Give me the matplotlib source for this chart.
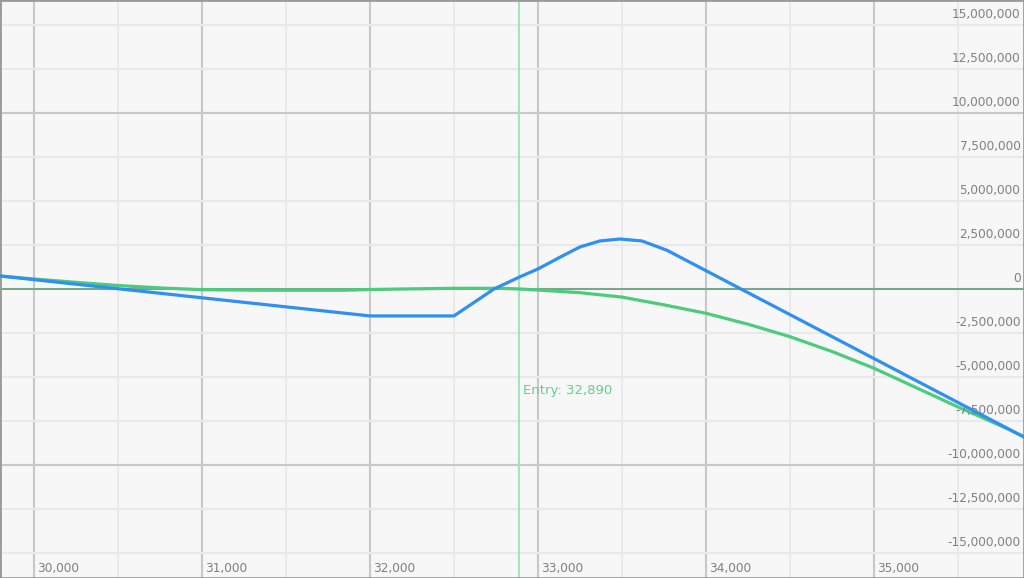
import matplotlib
matplotlib.use("Agg")
import matplotlib.pyplot as plt
from matplotlib.ticker import MultipleLocator

# price grid and P/L values
expiry_x = [29798, 32000, 32500, 32738, 32890, 33000, 33130, 33250, 33369, 33488, 33619, 33768, 35893]
expiry_y = [0.74e6, -1.53e6, -1.53e6, 0.0, 0.68e6, 1.14e6, 1.80e6, 2.39e6, 2.73e6, 2.84e6, 2.73e6, 2.20e6, -8.41e6]

today_x = [29798, 30000, 30250, 30500, 30750, 31000, 31350, 31850, 32000, 32200, 32500, 32774,
           32890, 33000, 33250, 33500, 33750, 34000, 34250, 34500, 34750, 35000, 35250, 35500,
           35750, 35893]
today_y = [0.74e6, 0.57e6, 0.38e6, 0.20e6, 0.06e6, -0.04e6, -0.07e6, -0.07e6, -0.03e6, 0.0, 0.04e6, 0.04e6,
           0.0, -0.06e6, -0.21e6, -0.46e6, -0.90e6, -1.38e6, -2.0e6, -2.71e6, -3.55e6, -4.5e6, -5.6e6, -6.7e6,
           -7.75e6, -8.39e6]

entry_price = 32890
x_ticks = [30000, 31000, 32000, 33000, 34000, 35000]
y_ticks = [v * 2.5e6 for v in range(-6, 7)]

BG = "#f7f7f7"
TICK_COLOR = "#808080"

fig = plt.figure(figsize=(10.24, 5.78), dpi=100)
fig.patch.set_facecolor(BG)
ax = fig.add_axes([0, 0, 1, 1])
ax.set_facecolor(BG)

ax.set_xlim(29798, 35893)
ax.set_ylim(-16.42e6, 16.42e6)

ax.xaxis.set_major_locator(MultipleLocator(1000))
ax.xaxis.set_minor_locator(MultipleLocator(500))
ax.yaxis.set_major_locator(MultipleLocator(10e6))
ax.yaxis.set_minor_locator(MultipleLocator(2.5e6))
ax.grid(True, which="major", color="#c8c8c8", linewidth=1.5, zorder=0)
ax.grid(True, which="minor", color="#e9e9e9", linewidth=1.5, zorder=0)
ax.tick_params(which="both", length=0, labelbottom=False, labelleft=False)

for side in ax.spines.values():
    side.set_color("#9a9a9a")
    side.set_linewidth(2)

# zero line and entry marker
ax.axhline(0, color="#6aa585", linewidth=1.3, zorder=2)
ax.axvline(entry_price, color="#a3e3bd", linewidth=1.5, zorder=2)
ax.text(entry_price + 22, -5.74e6, f"Entry: {entry_price:,}", color="#5fd18d",
        fontsize=9.5, ha="left", va="center")

ax.plot(today_x, today_y, color="#4ccb7c", linewidth=2.3, zorder=3)
ax.plot(expiry_x, expiry_y, color="#2f8ff3", linewidth=2.3, zorder=4)

# tick labels drawn inside the plot area
ytrans = ax.get_yaxis_transform()
for v in y_ticks:
    ax.text(0.9965, v + 0.2e6, f"{v:,.0f}", transform=ytrans, ha="right", va="bottom",
            fontsize=8.7, color=TICK_COLOR)
xtrans = ax.get_xaxis_transform()
for v in x_ticks:
    ax.text(v + 20, 0.006, f"{v:,}", transform=xtrans, ha="left", va="bottom",
            fontsize=8.7, color=TICK_COLOR)

fig.savefig("out.png", dpi=100, facecolor=BG)
